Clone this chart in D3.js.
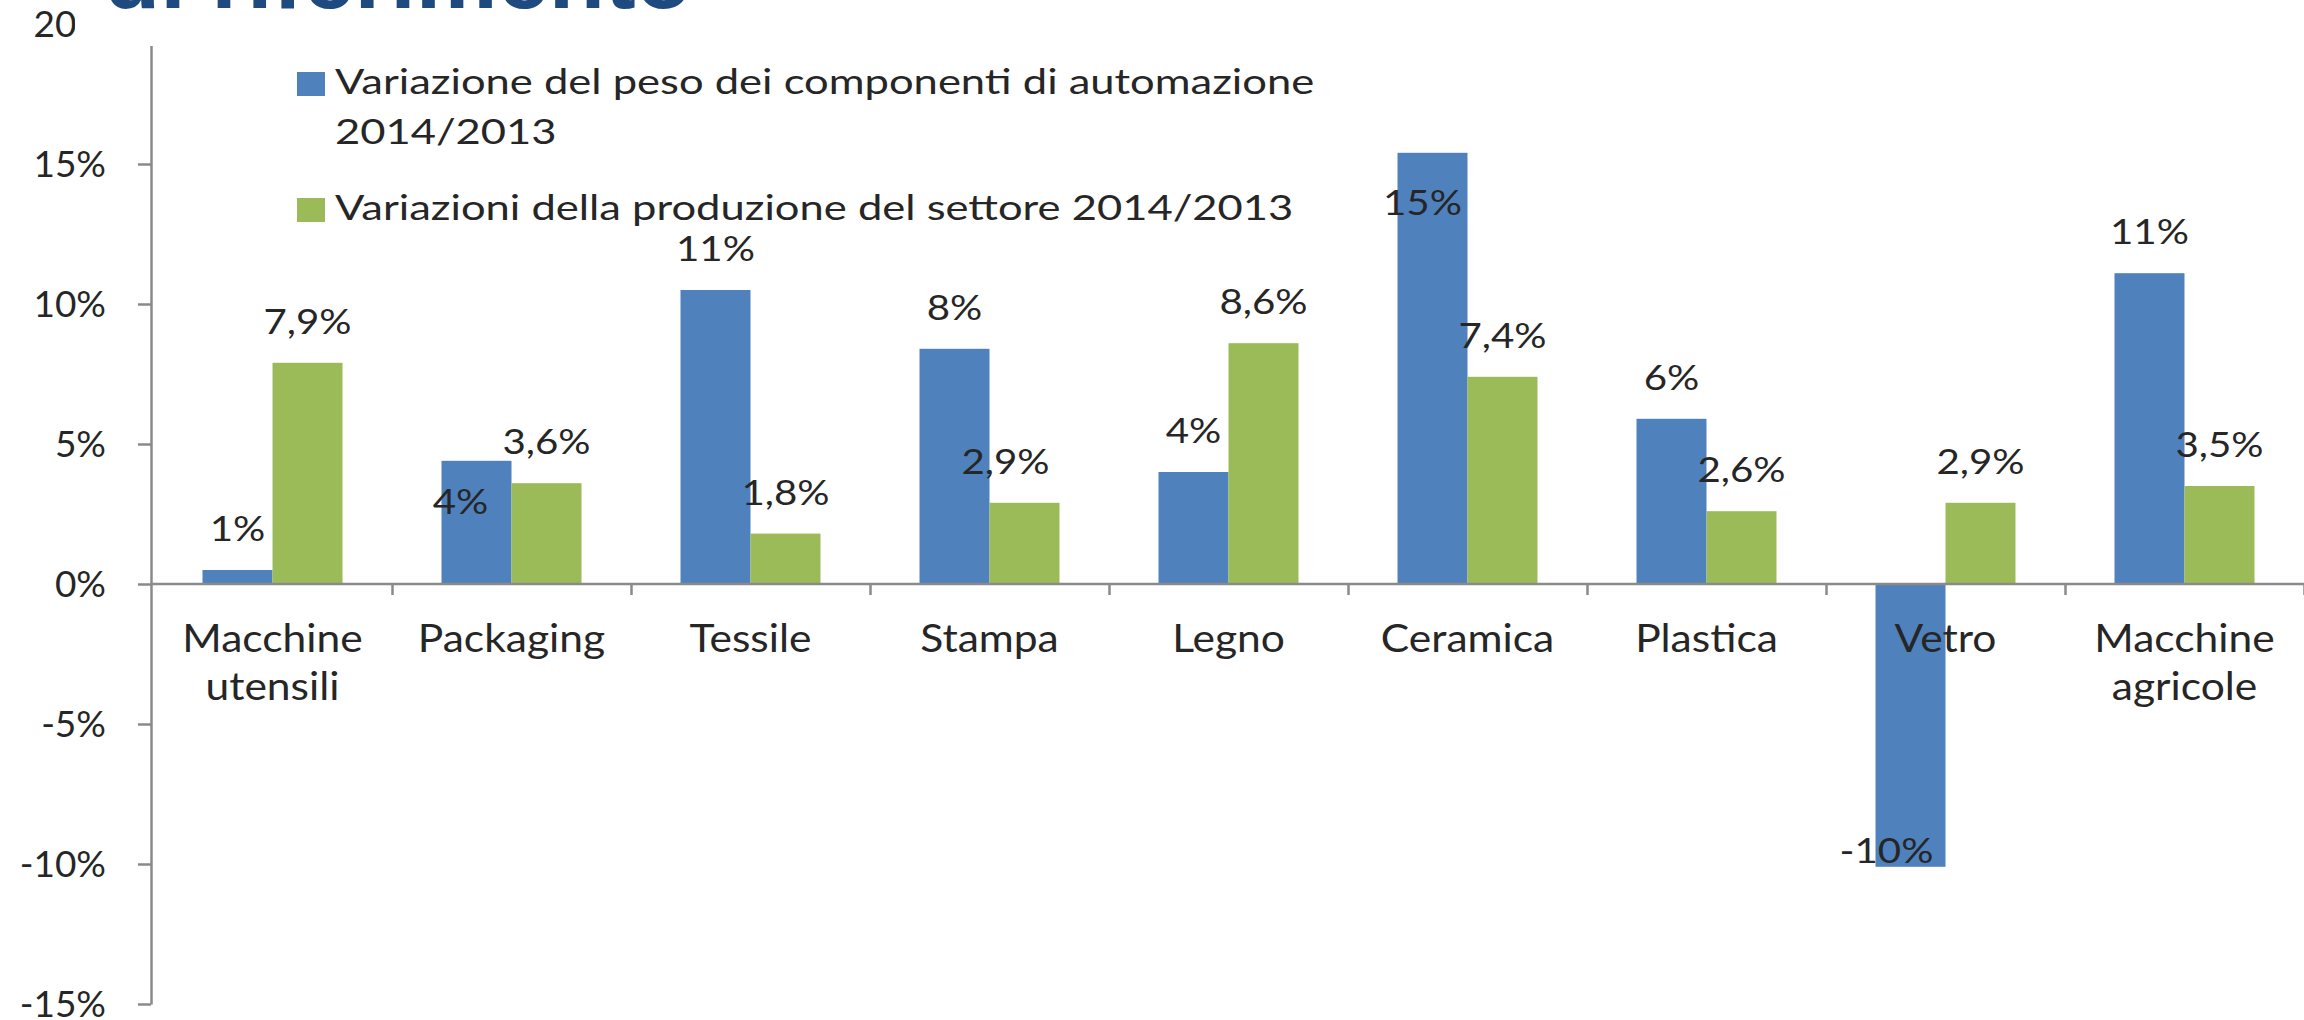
<!DOCTYPE html>
<html>
<head>
<meta charset="utf-8">
<script src="https://cdn.jsdelivr.net/npm/d3@7"></script>
<style>
  html, body { margin: 0; padding: 0; background: #fff; }
  svg text { font-family: Lato, "Open Sans", sans-serif; fill: #262626; font-variant-numeric: tabular-nums; }
</style>
</head>
<body>
<div id="container"></div>
<script>
const categories = ["Macchine utensili", "Packaging", "Tessile", "Stampa", "Legno", "Ceramica", "Plastica", "Vetro", "Macchine agricole"]
const automazione = [0.5, 4.4, 10.5, 8.4, 4.0, 15.4, 5.9, -10.1, 11.1]
const produzione = [7.9, 3.6, 1.8, 2.9, 8.6, 7.4, 2.6, 2.9, 3.5]
const automazioneLabels = ["1%", "4%", "11%", "8%", "4%", "15%", "6%", "-10%", "11%"]
const produzioneLabels = ["7,9%", "3,6%", "1,8%", "2,9%", "8,6%", "7,4%", "2,6%", "2,9%", "3,5%"]
const yTicks = [-15, -10, -5, 0, 5, 10, 15, 20]
const seriesNames = ["Variazione del peso dei componenti di automazione|2014/2013", "Variazioni della produzione del settore 2014/2013"]

const width = 2304
const height = 1020
const blue = "#4f81bd"
const green = "#9bbb59"
const axisColor = "#8a8a8a"

const svg = d3.select("#container").append("svg")
    .attr("width", width)
    .attr("height", height)

const y = d3.scaleLinear().domain([-15, 20]).range([1004, 24])
const x = d3.scaleBand().domain(categories).range([153, 2304])
const x1 = d3.scaleBand().domain(["a", "p"]).range([49.5, x.bandwidth() - 49.5])
const edges = d3.scaleLinear().domain([0, categories.length]).range([153, 2304])

const rows = categories.map((c, i) => ({
    cat: c, a: automazione[i], p: produzione[i],
    la: automazioneLabels[i], lp: produzioneLabels[i]
}))

// bars
const groups = svg.append("g")
   .selectAll("g")
   .data(rows)
   .enter()
   .append("g")
   .attr("transform", d => `translate(${x(d.cat)},0)`)

groups.append("rect")
   .attr("x", x1("a"))
   .attr("width", x1.bandwidth())
   .attr("y", d => y(Math.max(0, d.a)))
   .attr("height", d => Math.abs(y(d.a) - y(0)))
   .attr("fill", blue)

groups.append("rect")
   .attr("x", x1("p"))
   .attr("width", x1.bandwidth())
   .attr("y", d => y(Math.max(0, d.p)))
   .attr("height", d => Math.abs(y(d.p) - y(0)))
   .attr("fill", green)

// y axis
const yAxis = svg.append("g")
   .attr("transform", "translate(151,0)")
   .call(d3.axisLeft(y).tickValues(yTicks).tickFormat(d => d + "%").tickSize(13).tickSizeOuter(0).tickPadding(32))
yAxis.selectAll("path, line").attr("stroke", axisColor).attr("stroke-width", 2.5)
yAxis.selectAll("text").style("font-size", "37px").attr("dy", "0.34em")

// x axis line with boundary ticks
const xAxis = svg.append("g")
   .attr("transform", `translate(0,${y(0)})`)
   .call(d3.axisBottom(edges).tickValues(d3.range(1, categories.length + 1)).tickFormat("").tickSize(11).tickSizeOuter(0))
xAxis.select(".domain").attr("d", `M151,0H${width}`)
xAxis.selectAll("path, line").attr("stroke", axisColor).attr("stroke-width", 2.5)

// category labels
const catLabels = svg.append("g")
   .selectAll("text")
   .data(categories)
   .enter()
   .append("text")
   .attr("text-anchor", "middle")
   .style("font-size", "38px")
   .attr("transform", d => `translate(${x(d) + x.bandwidth() / 2},${y(0) + 68}) scale(1.12,1)`)
catLabels.selectAll("tspan")
   .data(d => d.split(" "))
   .enter()
   .append("tspan")
   .attr("x", 0)
   .attr("dy", (d, i) => i ? 48 : 0)
   .text(d => d)

// data labels
const nudge = {
    "a1": [-16, 82],
    "a5": [-10, 91],
    "p3": [-19, 0]
}
function labelPos(d, key, i) {
    const v = d[key]
    const cx = x(d.cat) + x1(key) + x1.bandwidth() / 2
    let by = v >= 0 ? y(v) - 29 : y(v) - 4
    const n = nudge[key + i] || [v < 0 ? -24 : 0, 0]
    return [cx + n[0], by + n[1]]
}
;["a", "p"].forEach(key => {
    svg.append("g")
       .selectAll("text")
       .data(rows)
       .enter()
       .append("text")
       .attr("text-anchor", "middle")
       .style("font-size", "35px")
       .attr("transform", (d, i) => {
           const [px, py] = labelPos(d, key, i)
           return `translate(${px},${py}) scale(1.15,1)`
       })
       .text(d => key === "a" ? d.la : d.lp)
})

// title box covering top of the plot
svg.append("rect")
   .attr("x", 75).attr("y", 0)
   .attr("width", width - 75).attr("height", 46)
   .attr("fill", "#fff")
svg.append("text")
   .attr("x", 104).attr("y", 8)
   .style("font-family", "'Liberation Sans', Arial, sans-serif")
   .style("font-weight", "bold")
   .style("font-size", "92px")
   .style("fill", "#1f4a7f")
   .text("di riferimento")

// legend
const legend = svg.append("g")
const legY = [72, 198]
seriesNames.forEach((name, i) => {
    legend.append("rect")
       .attr("x", 297).attr("y", legY[i])
       .attr("width", 28).attr("height", 24)
       .attr("fill", i ? green : blue)
    const t = legend.append("text")
       .style("font-size", "34px")
       .attr("transform", `translate(335,${legY[i] + 22}) scale(1.28,1)`)
    t.selectAll("tspan")
       .data(name.split("|"))
       .enter()
       .append("tspan")
       .attr("x", 0)
       .attr("dy", (d, j) => j ? 50 : 0)
       .text(d => d)
})
</script>
</body>
</html>
